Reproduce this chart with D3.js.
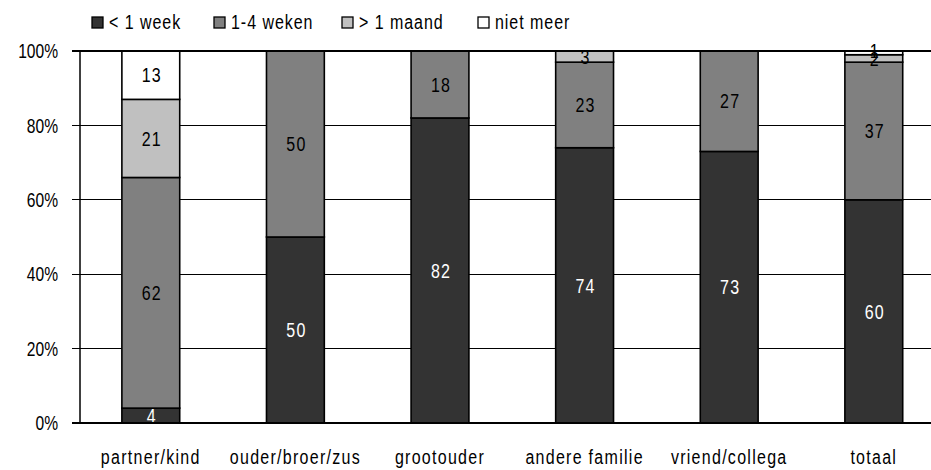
<!DOCTYPE html>
<html><head><meta charset="utf-8">
<script src="https://cdn.jsdelivr.net/npm/d3@7"></script>
<style>
html,body{margin:0;padding:0;background:#fff;}
svg text{font-family:"Liberation Sans",Arial,sans-serif;}
</style></head>
<body><svg id="c" width="931" height="470"></svg>
<script>
const categories = ["partner/kind","ouder/broer/zus","grootouder","andere familie","vriend/collega","totaal"];
const seriesNames = ["< 1 week","1-4 weken","> 1 maand","niet meer"];
const lessWeek   = [4, 50, 82, 74, 73, 60];
const weeks1to4  = [62, 50, 18, 23, 27, 37];
const moreMonth  = [21, 0, 0, 3, 0, 2];
const noMore     = [13, 0, 0, 0, 0, 1];
const yTicks = [0, 20, 40, 60, 80, 100];
const colors = ["#333333","#808080","#c0c0c0","#ffffff"];
const textColors = ["#ffffff","#000000","#000000","#000000"];

(function(){
const svg = d3.select("#c");
const plotLeft = 80, plotTop = 51, plotBottom = 423;
const SX = 0.8;
const x = d3.scaleBand().domain(categories).range([78.5, 78.5 + 6*144.6]).paddingInner(0.6).paddingOuter(0.3);
const y = d3.scaleLinear().domain([0, 100]).range([plotBottom, plotTop]);

function place(sel, fx, fy, sx) {
  sel.attr("x", 0).attr("y", 0)
     .attr("transform", (d, i) => `translate(${fx(d, i)},${fy(d, i)}) scale(${sx},1)`);
}

const rows = categories.map((c, i) => ({cat: c, s0: lessWeek[i], s1: weeks1to4[i], s2: moreMonth[i], s3: noMore[i]}));
const series = d3.stack().keys(["s0","s1","s2","s3"])(rows);

svg.append("g").selectAll("line").data(yTicks.filter(t => t > 0 && t < 100)).join("line")
  .attr("x1", 72).attr("x2", 931).attr("y1", d => y(d)).attr("y2", d => y(d))
  .attr("stroke", "#000").attr("stroke-width", 1).attr("shape-rendering","crispEdges");

const g = svg.append("g");
series.forEach((s, k) => {
  g.selectAll(null).data(s.filter(d => d[1] - d[0] > 0)).join("rect")
    .attr("x", d => x(d.data.cat))
    .attr("width", x.bandwidth())
    .attr("y", d => y(d[1]))
    .attr("height", d => y(d[0]) - y(d[1]))
    .attr("fill", colors[k]).attr("stroke", "#000").attr("stroke-width", 1.6);
});
series.forEach((s, k) => {
  const t = g.selectAll(null).data(s.filter(d => d[1] - d[0] > 0)).join("text")
    .attr("dy", "0.36em")
    .attr("text-anchor", "middle")
    .attr("fill", textColors[k])
    .attr("font-size", 20)
    .attr("letter-spacing", "1.5px")
    .text(d => d[1] - d[0]);
  place(t, d => x(d.data.cat) + x.bandwidth()/2 + 1, d => (y(d[0]) + y(d[1]))/2 - (k === 3 && d[1] - d[0] < 2 ? 2 : 0), SX);
});

svg.append("line").attr("x1", 72).attr("x2", 931).attr("y1", y(100)).attr("y2", y(100))
  .attr("stroke", "#000").attr("stroke-width", 2);
svg.append("line").attr("x1", 72).attr("x2", 931).attr("y1", y(0)).attr("y2", y(0))
  .attr("stroke", "#000").attr("stroke-width", 2);
svg.append("line").attr("x1", plotLeft).attr("x2", plotLeft).attr("y1", y(100)).attr("y2", y(0))
  .attr("stroke", "#000").attr("stroke-width", 1.5);

const yl = svg.append("g").selectAll("text").data(yTicks).join("text")
  .attr("dy", "0.36em").attr("text-anchor", "end")
  .attr("font-size", 20).text(d => d + "%");
place(yl, () => 58, d => y(d), 0.78);

const xl = svg.append("g").selectAll("text").data(categories).join("text")
  .attr("text-anchor", "middle")
  .attr("font-size", 20).attr("letter-spacing", "1.6px").text(d => d);
place(xl, d => x(d) + x.bandwidth()/2, () => 464, SX);

const legX = [92, 214, 342, 478];
const leg = svg.append("g");
seriesNames.forEach((n, k) => {
  leg.append("rect").attr("x", legX[k]).attr("y", 17).attr("width", 11).attr("height", 11)
    .attr("fill", colors[k]).attr("stroke", "#000").attr("stroke-width", 1.3);
  const t = leg.append("text").datum(n).attr("font-size", 20).attr("letter-spacing", "1.2px").text(n);
  place(t, () => legX[k] + 17, () => 29, SX);
});
})();
</script></body></html>
